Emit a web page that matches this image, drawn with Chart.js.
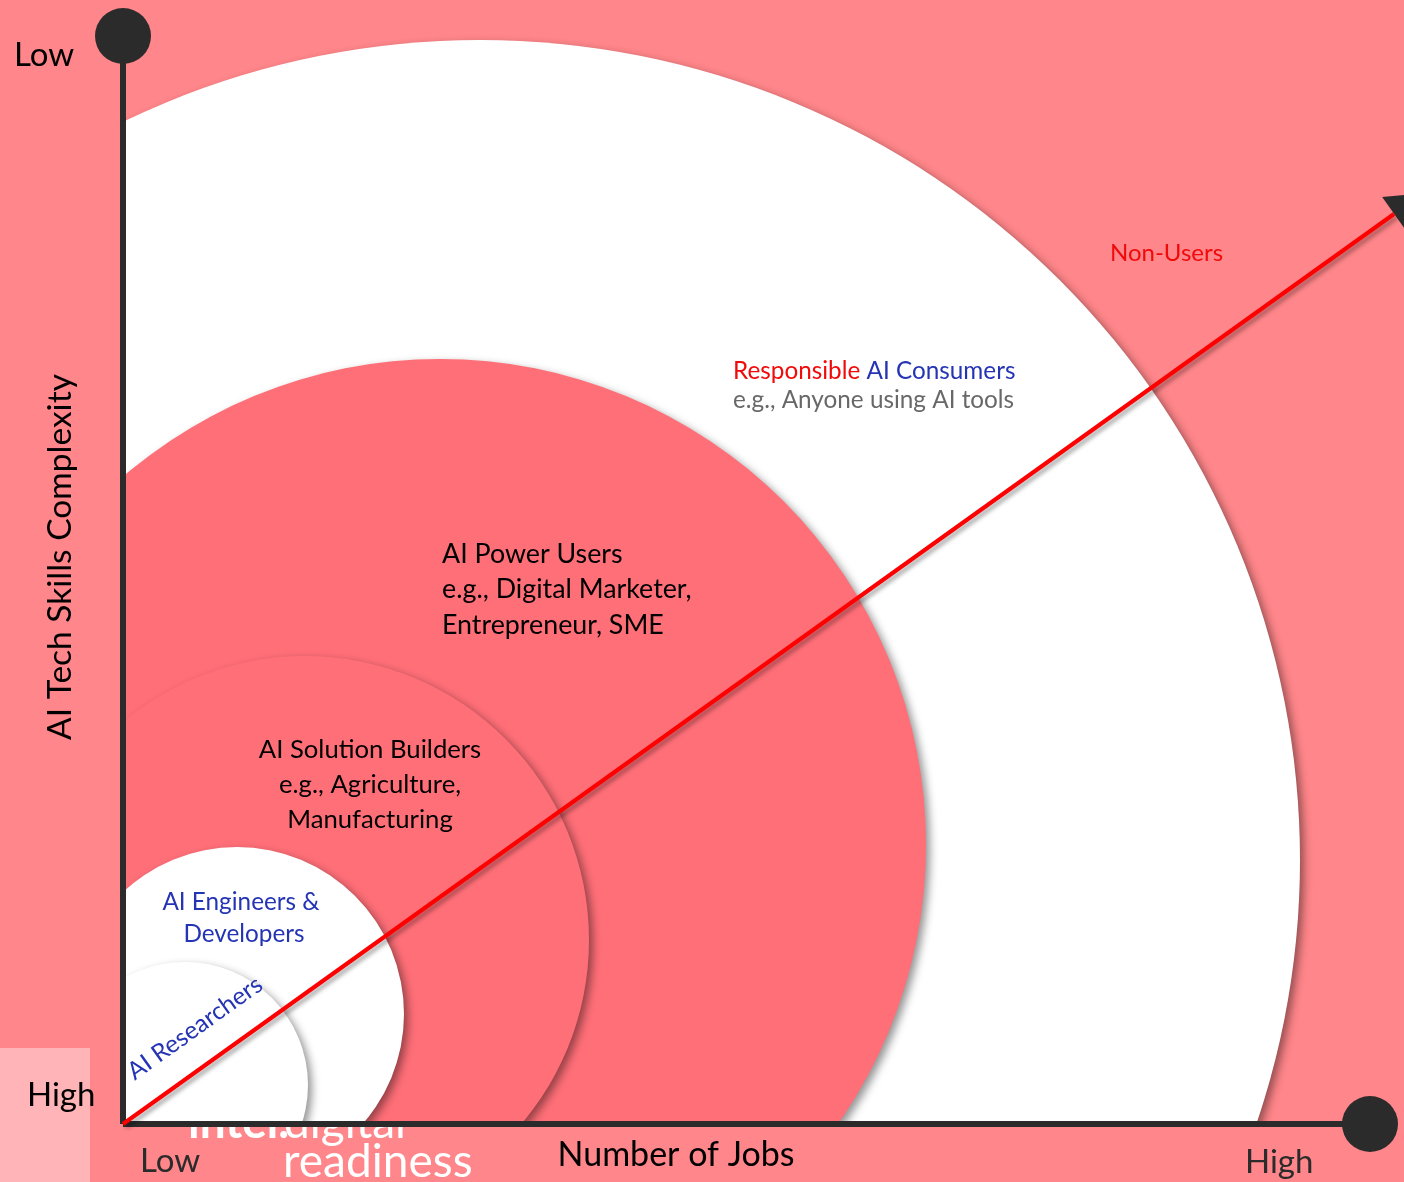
<!DOCTYPE html>
<html>
<head>
<meta charset="utf-8">
<script src="https://cdn.jsdelivr.net/npm/chart.js@4/dist/chart.umd.min.js"></script>
<style>
  html, body { margin: 0; padding: 0; background: #FF868A; overflow: hidden; }
  canvas { display: block; }
</style>
</head>
<body>
<canvas id="c" width="1404" height="1182"></canvas>
<script>
// Rings of AI skill, largest first. Data units: x = number of jobs, y = skills scale,
// both measured from the axis origin.
const rings    = ['Responsible AI Consumers', 'AI Power Users', 'AI Solution Builders', 'AI Engineers & Developers', 'AI Researchers'];
const ringX    = [357, 317, 182, 114, 62];
const ringY    = [264, 279, 184, 110, 39];
const ringR    = [820, 486, 284, 167, 123];

// red trend line from origin to arrow head
const trendX   = [0, 1271];
const trendY   = [0, 910];
const arrowTip = [1281, 917];

// axis ends
const axisYTop   = 1088;
const axisXRight = 1247;

const ringFill = ['#FFFFFF', '#FF6F78', '#FF6F78', '#FFFFFF', '#FFFFFF'];
const FONT = 'Lato, "Open Sans", sans-serif';
const DARK = '#2B2B2B';
const BLUE = '#2434B4';
const RED  = '#F00A0A';

function txt(ctx, s, x, y, size, color, align, weight) {
    ctx.font = (weight || 'normal') + ' ' + size + 'px ' + FONT;
    ctx.fillStyle = color;
    ctx.textAlign = align || 'left';
    ctx.textBaseline = 'middle';
    ctx.fillText(s, x, y);
}

const backdrop = {
    id: 'backdrop',
    beforeDraw(chart) {
        const ctx = chart.ctx;
        ctx.save();
        ctx.fillStyle = '#FF868A';
        ctx.fillRect(0, 0, chart.width, chart.height);
        ctx.fillStyle = '#FFB5B8';
        ctx.fillRect(0, 1048, 90, 134);
        // logo, partly hidden under the quadrant
        ctx.beginPath();
        ctx.rect(0, 1127, chart.width, 60);
        ctx.clip();
        ctx.fillStyle = '#FFFFFF';
        ctx.textBaseline = 'alphabetic';
        ctx.textAlign = 'left';
        ctx.font = 'bold 46px ' + FONT;
        ctx.fillText('intel.', 188, 1138);
        ctx.font = 'normal 46px ' + FONT;
        ctx.fillText('digital', 284, 1138);
        ctx.fillText('readiness', 283, 1177);
        ctx.restore();
    }
};

const ringsPlugin = {
    id: 'rings',
    beforeDatasetsDraw(chart) {
        const ctx = chart.ctx;
        const x = chart.scales.x, y = chart.scales.y;
        const ox = x.getPixelForValue(0), oy = y.getPixelForValue(0);
        ctx.save();
        ctx.beginPath();
        ctx.rect(ox, 0, chart.width - ox, oy);
        ctx.clip();
        ringR.forEach((r, i) => {
            const cx = x.getPixelForValue(ringX[i]);
            const cy = y.getPixelForValue(ringY[i]);
            const rp = x.getPixelForValue(ringX[i] + r) - cx;
            ctx.beginPath();
            ctx.arc(cx, cy, rp, 0, Math.PI * 2);
            ctx.fillStyle = ringFill[i];
            ctx.shadowColor = 'rgba(0,0,0,0.42)';
            ctx.shadowBlur = 9;
            ctx.shadowOffsetX = 4;
            ctx.shadowOffsetY = 4;
            ctx.fill();
        });
        ctx.restore();
    },
    beforeDatasetDraw(chart, args) {
        if (args.meta.label !== 'trend') return;
        const ctx = chart.ctx;
        ctx.save();
        ctx.shadowColor = 'rgba(0,0,0,0.35)';
        ctx.shadowBlur = 4;
        ctx.shadowOffsetX = 3;
        ctx.shadowOffsetY = 3;
    },
    afterDatasetDraw(chart, args) {
        if (args.meta.label !== 'trend') return;
        chart.ctx.restore();
    },
    afterDatasetsDraw(chart) {
        const ctx = chart.ctx;
        ctx.save();
        // axis labels
        txt(ctx, 'Low', 14, 55, 33, '#000');
        txt(ctx, 'High', 27, 1095, 33, '#000');
        txt(ctx, 'Low', 140, 1161, 33, DARK);
        txt(ctx, 'Number of Jobs', 676, 1155, 34, '#000', 'center');
        txt(ctx, 'High', 1245, 1162, 33, DARK);
        ctx.save();
        ctx.translate(60, 557);
        ctx.rotate(-Math.PI / 2);
        txt(ctx, 'AI Tech Skills Complexity', 0, 0, 33.5, '#000', 'center');
        ctx.restore();

        // ring labels
        txt(ctx, 'Non-Users', 1110, 253, 24, RED);
        ctx.font = '24.3px ' + FONT;
        const w = ctx.measureText('Responsible ').width;
        txt(ctx, 'Responsible ', 733, 371, 24.3, RED);
        txt(ctx, 'AI Consumers', 733 + w, 371, 24.3, BLUE);
        txt(ctx, 'e.g., Anyone using AI tools', 733, 400, 24.3, '#686868');

        txt(ctx, 'AI Power Users', 442, 554, 26.8, '#000');
        txt(ctx, 'e.g., Digital Marketer,', 442, 589, 26.8, '#000');
        txt(ctx, 'Entrepreneur, SME', 442, 625, 26.8, '#000');

        txt(ctx, 'AI Solution Builders', 370, 750, 25.7, '#000', 'center');
        txt(ctx, 'e.g., Agriculture,', 370, 785, 25.7, '#000', 'center');
        txt(ctx, 'Manufacturing', 370, 820, 25.7, '#000', 'center');

        txt(ctx, 'AI Engineers &', 241, 902, 24.3, BLUE, 'center');
        txt(ctx, 'Developers', 244, 934, 24.3, BLUE, 'center');

        ctx.save();
        ctx.translate(195, 1028);
        ctx.rotate(-35.5 * Math.PI / 180);
        txt(ctx, 'AI Researchers', 0, 0, 24.5, BLUE, 'center');
        ctx.restore();
        ctx.restore();
    }
};

new Chart(document.getElementById('c'), {
    type: 'scatter',
    data: {
        datasets: [
            {
                label: 'yAxis',
                data: [{ x: 0, y: 0 }, { x: 0, y: axisYTop }],
                showLine: true,
                borderColor: DARK,
                borderWidth: 6,
                pointRadius: [0, 28],
                pointBackgroundColor: DARK,
                pointBorderWidth: 0,
                clip: false,
                order: 2
            },
            {
                label: 'xAxis',
                data: [{ x: 0, y: 0 }, { x: axisXRight, y: 0 }],
                showLine: true,
                borderColor: DARK,
                borderWidth: 6,
                pointRadius: [0, 28],
                pointBackgroundColor: DARK,
                pointBorderWidth: 0,
                clip: false,
                order: 2
            },
            {
                label: 'trend',
                data: trendX.map((v, i) => ({ x: v, y: trendY[i] })),
                showLine: true,
                borderColor: '#FF0000',
                borderWidth: 4,
                pointRadius: 0,
                order: 1
            },
            {
                label: 'arrow',
                data: [{ x: arrowTip[0], y: arrowTip[1] }],
                pointStyle: 'triangle',
                pointRotation: 54.5,
                pointRadius: 24,
                pointBackgroundColor: DARK,
                pointBorderWidth: 0,
                clip: false,
                order: 0
            }
        ]
    },
    options: {
        responsive: false,
        animation: false,
        devicePixelRatio: 1,
        layout: { padding: 0, autoPadding: false },
        plugins: { legend: { display: false }, tooltip: { enabled: false } },
        scales: {
            x: { type: 'linear', min: -123, max: 1281, display: false },
            y: { type: 'linear', min: -58, max: 1124, display: false }
        }
    },
    plugins: [backdrop, ringsPlugin]
});
</script>
</body>
</html>
